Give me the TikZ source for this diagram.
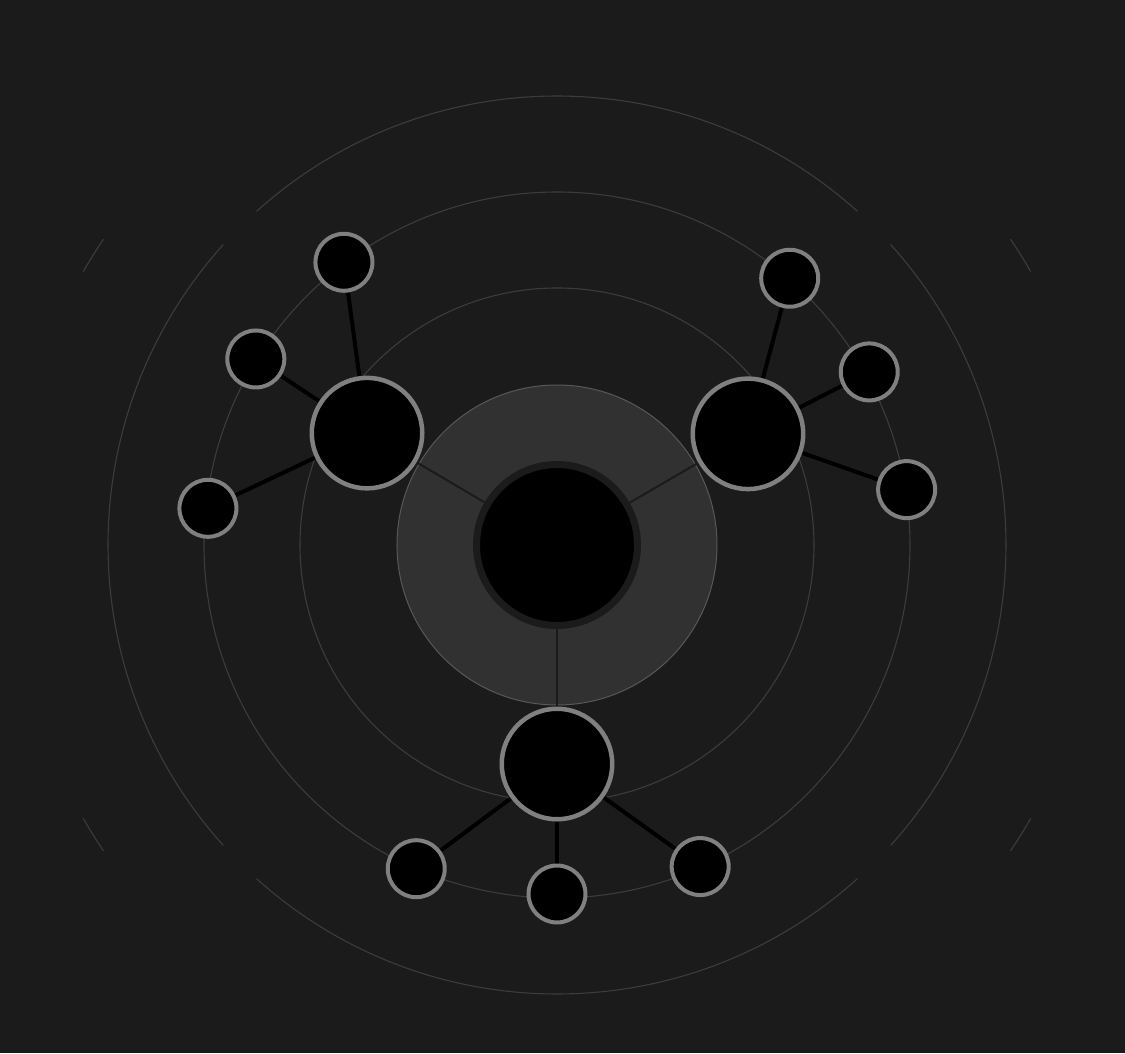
\documentclass[tikz,border=0pt]{standalone}
\usepackage{tikz}
\usetikzlibrary{positioning}
\definecolor{bg_dark}{RGB}{27,27,27}
\definecolor{ring_grey}{RGB}{60,60,60}
\definecolor{disk_grey}{RGB}{49,49,49}
\definecolor{disk_edge}{RGB}{88,88,88}
\definecolor{node_edge}{RGB}{128,128,128}
\pgfdeclarelayer{back}
\pgfdeclarelayer{mid}
\pgfsetlayers{back,mid,main}

\begin{document}
\begin{tikzpicture}[x=1pt, y=1pt,
      ring/.style={draw=ring_grey, line width=1.1pt},
      disk/.style={fill=disk_grey, draw=disk_edge, line width=1pt},
      hub/.style={circle, draw=bg_dark, line width=7pt, fill=black, minimum size=161pt, inner sep=0pt},
      branch/.style={circle, draw=node_edge, line width=4.5pt, fill=black, minimum size=110.5pt, inner sep=0pt},
      leaf/.style={circle, draw=node_edge, line width=4pt, fill=black, minimum size=57pt, inner sep=0pt},
      spoke/.style={draw=bg_dark, line width=2pt},
      link/.style={draw=black, line width=4pt}]
    \useasboundingbox (-557,-508) rectangle (568,545);
    \begin{pgfonlayer}{back}
      \fill[bg_dark] (-557,-508) rectangle (568,545);
      \draw[ring] (0,0) circle[radius=257];
      \draw[ring] (0,0) circle[radius=353];
      \draw[ring] (48:449) arc[start angle=48, end angle=132, radius=449];
      \draw[ring] (138:449) arc[start angle=138, end angle=222, radius=449];
      \draw[ring] (228:449) arc[start angle=228, end angle=312, radius=449];
      \draw[ring] (-42:449) arc[start angle=-42, end angle=42, radius=449];
      \draw[ring] (30:547) arc[start angle=30, end angle=34, radius=547];
      \draw[ring] (146:547) arc[start angle=146, end angle=150, radius=547];
      \draw[ring] (210:547) arc[start angle=210, end angle=214, radius=547];
      \draw[ring] (326:547) arc[start angle=326, end angle=330, radius=547];
      \draw[disk] (0,0) circle[radius=160];
    \end{pgfonlayer}

    \node[hub] (core) at (0,0) {};
    \node[branch] (westhub)  at (149.5:220.5) {};
    \node[branch] (easthub)  at (30.2:221) {};
    \node[branch] (southhub) at (270:219) {};

    \node[leaf] (w1) at (127:354) {};
    \node[leaf] (w2) at (148.3:354) {};
    \node[leaf] (w3) at (174:351) {};
    \node[leaf] (e1) at (48.9:354) {};
    \node[leaf] (e2) at (29:357) {};
    \node[leaf] (e3) at (9:354) {};
    \node[leaf] (s1) at (246.5:353) {};
    \node[leaf] (s2) at (270:349) {};
    \node[leaf] (s3) at (294:352) {};

    \begin{pgfonlayer}{mid}
      \draw[spoke] (core) -- (westhub);
      \draw[spoke] (core) -- (easthub);
      \draw[spoke] (core) -- (southhub);
      \draw[link] (westhub) -- (w1);
      \draw[link] (westhub) -- (w2);
      \draw[link] (westhub) -- (w3);
      \draw[link] (easthub) -- (e1);
      \draw[link] (easthub) -- (e2);
      \draw[link] (easthub) -- (e3);
      \draw[link] (southhub) -- (s1);
      \draw[link] (southhub) -- (s2);
      \draw[link] (southhub) -- (s3);
    \end{pgfonlayer}
  \end{tikzpicture}
\end{document}
